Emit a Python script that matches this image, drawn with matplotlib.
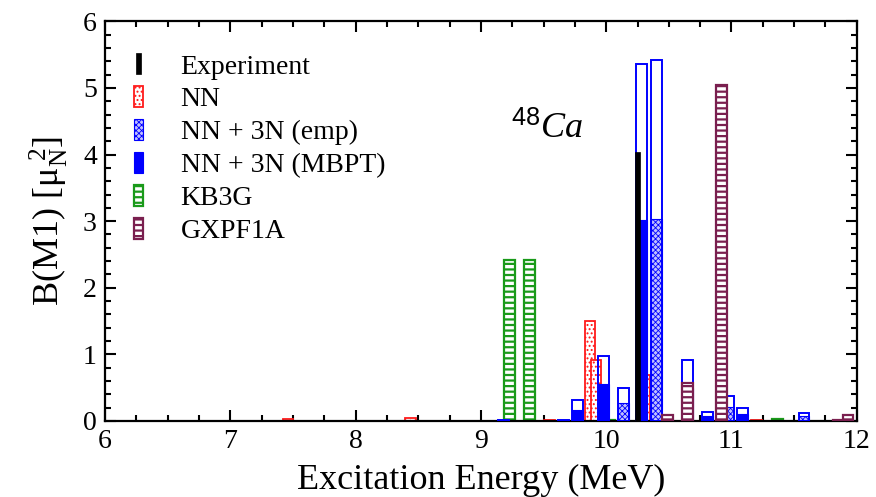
import matplotlib
matplotlib.use('Agg')
import matplotlib as mpl
import matplotlib.pyplot as plt
from matplotlib.patches import Rectangle
from matplotlib.legend_handler import HandlerPatch
from matplotlib.ticker import MultipleLocator

plt.rcParams['font.family'] = ['Liberation Serif', 'DejaVu Serif']
plt.rcParams['mathtext.fontset'] = 'custom'
plt.rcParams['mathtext.rm'] = 'Liberation Serif'
plt.rcParams['mathtext.it'] = 'Liberation Serif:italic'
plt.rcParams['mathtext.sf'] = 'Liberation Sans'

# ---------------- data ----------------
exp_E = [10.25]
exp_B = [4.04]

nn_E = [7.46, 8.44, 9.55, 9.87, 9.92, 10.31, 11.20]
nn_B = [0.03, 0.05, 0.01, 1.50, 0.92, 0.69, 0.01]

emp_E = [9.18, 10.14, 10.40, 10.98, 11.58]
emp_B = [0.01, 0.27, 3.04, 0.21, 0.07]
emp_B_unq = [0.02, 0.49, 5.42, 0.37, 0.12]

mbpt_E = [9.66, 9.77, 9.98, 10.28, 10.65, 10.81, 11.09]
mbpt_B = [0.01, 0.17, 0.55, 3.02, 0.50, 0.07, 0.10]
mbpt_B_unq = [0.02, 0.32, 0.98, 5.36, 0.92, 0.13, 0.19]

kb3g_E = [9.23, 9.39, 10.03, 11.37]
kb3g_B = [2.42, 2.42, 0.01, 0.03]

gx_E = [10.49, 10.65, 10.92, 11.85, 11.93]
gx_B = [0.09, 0.57, 5.05, 0.01, 0.09]

labels = ['Experiment', 'NN', 'NN + 3N (emp)', 'NN + 3N (MBPT)', 'KB3G', 'GXPF1A']
x_ticks = [6, 7, 8, 9, 10, 11, 12]
y_ticks = [0, 1, 2, 3, 4, 5, 6]

# ---------------- styles ----------------
RED = '#ff1a1a'
BLUE = '#0000ff'
GREEN = '#1a9a1a'
PURPLE = '#7a1f4f'
W = 0.085

fig = plt.figure(figsize=(8.76, 4.97), dpi=100)
ax = fig.add_axes([0.12, 0.153, 0.858, 0.804])


def hbars(x, h, hlw=1.0, **kw):
    with mpl.rc_context({'hatch.linewidth': hlw}):
        bc = ax.bar(x, h, **kw)
    for p in bc:
        if hasattr(p, 'set_hatch_linewidth'):
            p.set_hatch_linewidth(hlw)
    return bc


b_nn = hbars(nn_E, nn_B, hlw=0.9, width=W, facecolor='white', edgecolor=RED,
             hatch='....', linewidth=1.3, zorder=2)
b_kb = hbars(kb3g_E, kb3g_B, hlw=1.6, width=W, facecolor='white', edgecolor=GREEN,
             hatch='---', linewidth=1.6, zorder=2)
b_emp = hbars(emp_E, emp_B, hlw=0.6, width=W, facecolor='#c0c0ff', edgecolor=BLUE,
              hatch='xxxxxx', linewidth=0.8, zorder=3)
b_mb = ax.bar(mbpt_E, mbpt_B, width=W, facecolor=BLUE, edgecolor=BLUE,
              linewidth=0.8, zorder=3)
ax.bar(emp_E, emp_B_unq, width=W, facecolor='none', edgecolor=BLUE,
       linewidth=1.4, zorder=4)
ax.bar(mbpt_E, mbpt_B_unq, width=W, facecolor='none', edgecolor=BLUE,
       linewidth=1.4, zorder=4)
b_gx = hbars(gx_E, gx_B, hlw=1.6, width=W, facecolor='white', edgecolor=PURPLE,
             hatch='---', linewidth=1.6, zorder=5)
b_exp = ax.bar(exp_E, exp_B, width=0.035, facecolor='black', edgecolor='black',
               linewidth=0.5, zorder=6)

ax.set_xlim(6, 12)
ax.set_ylim(0, 6)
ax.set_xticks(x_ticks)
ax.set_yticks(y_ticks)
ax.xaxis.set_minor_locator(MultipleLocator(0.25))
ax.yaxis.set_minor_locator(MultipleLocator(0.2))
ax.tick_params(which='both', direction='in', top=True, right=True, width=1.5)
ax.tick_params(which='major', length=8, labelsize=20, pad=6)
ax.tick_params(which='minor', length=4.5)
for s in ax.spines.values():
    s.set_linewidth(1.6)

ax.set_xlabel('Excitation Energy (MeV)', fontsize=26, labelpad=7)
ax.set_ylabel(r'B(M1) [$\mathrm{\mu_N^{\ 2}}$]', fontsize=26, labelpad=9)

ax.text(9.53, 4.38, r'$^{\mathsf{48}}\mathit{Ca}$', fontsize=26, ha='center', va='center')


class NarrowHandler(HandlerPatch):
    def __init__(self, frac, **kw):
        super().__init__(**kw)
        self.frac = frac

    def create_artists(self, legend, orig_handle, xdescent, ydescent, width, height, fontsize, trans):
        w = width * self.frac
        hh = height * 1.1
        p = Rectangle((-xdescent + (width - w) / 2, -ydescent + (height - hh) / 2), w, hh,
                      facecolor=orig_handle.get_facecolor(), edgecolor=orig_handle.get_edgecolor(),
                      hatch=orig_handle.get_hatch(), linewidth=orig_handle.get_linewidth())
        if hasattr(p, 'set_hatch_linewidth') and hasattr(orig_handle, 'get_hatch_linewidth'):
            p.set_hatch_linewidth(orig_handle.get_hatch_linewidth())
        p.set_transform(trans)
        return [p]


handles = [b_exp.patches[0], b_nn.patches[0], b_emp.patches[0], b_mb.patches[0],
           b_kb.patches[0], b_gx.patches[0]]
hmap = {handles[0]: NarrowHandler(0.11)}
for h in handles[1:]:
    hmap[h] = NarrowHandler(0.22)
ax.legend(handles, labels, handler_map=hmap, loc='upper left',
          bbox_to_anchor=(0.0, 0.946), frameon=False, fontsize=20,
          handlelength=1.6, handletextpad=0.72, labelspacing=0.27, borderaxespad=0)

fig.savefig('out.png', dpi=100)
